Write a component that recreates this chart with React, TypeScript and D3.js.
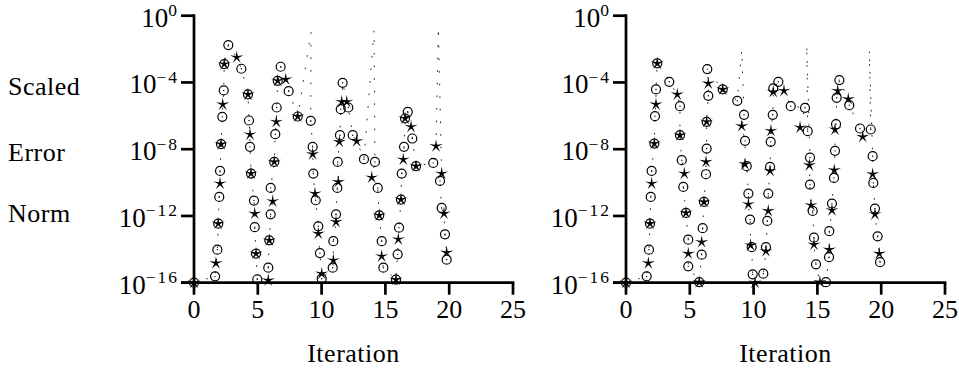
import React from 'react';
import * as d3 from 'd3';

// ---- data ----
const xTicks = [0, 5, 10, 15, 20, 25];
const yTickExps = [0, -4, -8, -12, -16];
const yLabelWords = ['Scaled', 'Error', 'Norm'];
const xLabel = 'Iteration';

// [iteration, log10(scaled error norm), marker: c=circle, s=star, cs=both, ''=none]
type P = [number, number, string];

const leftPoints: P[] = [
  [0, -16, 'cs'], [1.65, -15.62, 'c'], [1.72, -14.83, 's'], [1.83, -14.02, 'c'],
  [1.9, -12.46, 'cs'], [1.98, -10.86, 'c'], [2.04, -10.06, 's'], [2.04, -9.3, 'c'],
  [2.12, -7.7, 'cs'], [2.22, -6.06, 'c'], [2.25, -5.32, 's'], [2.33, -4.48, 'c'],
  [2.37, -2.9, 'cs'], [2.69, -1.76, 'c'], [3.35, -2.5, 's'], [3.71, -3.18, 'c'],
  [4.23, -4.72, 'cs'], [4.31, -6.28, 'c'], [4.39, -7.12, 's'], [4.39, -7.86, 'c'],
  [4.47, -9.46, 'cs'], [4.7, -11.08, 'c'], [4.76, -11.86, 's'], [4.76, -12.67, 'c'],
  [4.86, -14.26, 'cs'], [4.96, -15.8, 'c'], [5.82, -15.86, 's'], [5.82, -15.1, 'c'],
  [5.9, -13.46, 'cs'], [6.01, -11.9, 'c'], [6.17, -11.12, 's'], [6.01, -10.32, 'c'],
  [6.29, -8.76, 'cs'], [6.37, -7.1, 'c'], [6.45, -6.36, 's'], [6.48, -5.5, 'c'],
  [6.56, -3.9, 'cs'], [6.79, -3.06, 'c'], [7.19, -3.82, 's'], [7.42, -4.52, 'c'],
  [8.13, -6.04, 'cs'], [9.17, -0.98, ''], [9.15, -6.3, 'c'], [9.3, -7.86, 'c'],
  [9.3, -8.3, 's'], [9.35, -9.46, 'c'], [9.48, -10.66, 's'], [9.54, -11.06, 'c'],
  [9.74, -12.62, 'c'], [9.74, -13.06, 's'], [9.87, -14.23, 'c'], [10.01, -15.46, 's'],
  [10.01, -15.76, 'c'],
  [10.87, -15.1, 'c'], [10.92, -14.66, 's'], [10.92, -13.51, 'c'], [11.13, -12.36, 's'],
  [11.13, -11.9, 'c'], [11.23, -10.32, 'c'], [11.31, -9.96, 's'], [11.26, -8.76, 'c'],
  [11.39, -7.56, 's'], [11.44, -7.16, 'c'], [11.5, -5.6, 'c'], [11.58, -5.16, 's'],
  [11.65, -4.02, 'c'], [11.97, -5.16, 's'], [12.09, -5.5, 'c'], [12.44, -7.16, 'c'],
  [12.75, -7.52, 's'], [13.32, -8.6, 'c'], [14.11, -0.86, ''], [14.18, -8.76, 'c'],
  [13.93, -9.7, 's'], [14.4, -10.32, 'c'], [14.52, -11.96, 'cs'], [14.71, -13.51, 'c'],
  [14.71, -14.42, 's'], [14.84, -15.1, 'c'],
  [15.83, -15.82, 'cs'], [15.96, -14.3, 'c'], [16.01, -13.4, 's'], [16.07, -12.7, 'c'],
  [16.22, -11.02, 'cs'], [16.28, -9.46, 'c'], [16.4, -8.62, 's'], [16.46, -7.86, 'c'],
  [16.54, -6.16, 'cs'], [16.75, -5.76, 'c'], [17.01, -6.66, 's'], [17.11, -7.36, 'c'],
  [17.4, -9.02, 'cs'], [18.75, -8.82, 'c'], [18.97, -7.82, 's'], [19.15, -0.7, ''],
  [19.41, -9.46, 's'], [19.28, -9.9, 'c'], [19.41, -11.52, 'c'], [19.59, -11.86, 's'],
  [19.67, -13.1, 'c'], [19.8, -14.2, 's'], [19.8, -14.62, 'c'],
];

const rightPoints: P[] = [
  [0, -16, 'cs'], [1.62, -15.62, 'c'], [1.75, -14.83, 's'], [1.8, -14.02, 'c'],
  [1.88, -12.46, 'cs'], [1.94, -10.86, 'c'], [2.01, -10.06, 's'], [2.01, -9.3, 'c'],
  [2.22, -7.66, 'cs'], [2.27, -6.02, 'c'], [2.35, -5.32, 's'], [2.35, -4.42, 'c'],
  [2.45, -2.86, 'cs'], [3.39, -3.96, 'c'], [4.02, -4.72, 's'], [4.23, -5.42, 'c'],
  [4.23, -7.16, 'cs'], [4.37, -8.66, 'c'], [4.57, -9.46, 's'], [4.49, -10.26, 'c'],
  [4.7, -11.82, 'cs'], [4.88, -13.42, 'c'], [4.88, -14.26, 's'], [4.88, -15.02, 'c'],
  [5.74, -15.97, 'cs'], [5.93, -14.32, 'c'], [5.93, -13.57, 's'], [6.01, -12.73, 'c'],
  [6.11, -11.16, 'cs'], [6.27, -9.5, 'c'], [6.27, -8.76, 's'], [6.32, -7.96, 'c'],
  [6.32, -6.36, 'cs'], [6.45, -4.8, 'c'], [6.45, -4.06, 's'], [6.37, -3.2, 'c'],
  [7.58, -4.42, 'cs'], [8.72, -5.1, 'c'], [9.07, -2.06, ''], [9.25, -5.94, 'c'],
  [9.07, -6.62, 's'], [9.33, -7.5, 'c'], [9.33, -8.9, 's'], [9.46, -9.02, 'c'],
  [9.59, -10.66, 'c'], [9.59, -11.3, 's'], [9.72, -12.22, 'c'], [9.77, -13.76, 's'],
  [9.85, -13.87, 'c'], [9.93, -15.5, 'c'], [10.11, -16.0, 's'],
  [10.76, -15.46, 'c'], [10.97, -14.11, 's'], [10.97, -13.87, 'c'], [11.07, -12.3, 'c'],
  [11.15, -11.7, 's'], [11.15, -10.66, 'c'], [11.29, -9.3, 's'], [11.29, -9.06, 'c'],
  [11.34, -7.56, 'c'], [11.36, -6.9, 's'], [11.5, -5.94, 'c'], [11.54, -4.56, 's'],
  [11.54, -4.36, 'c'], [11.94, -3.96, 'c'], [12.38, -4.5, 's'], [12.91, -5.42, 'c'],
  [14.03, -5.52, 'c'], [13.64, -6.7, 's'], [14.24, -6.92, 'c'], [14.16, -1.76, ''],
  [14.42, -8.5, 'c'], [14.37, -8.96, 's'], [14.42, -10.12, 'c'], [14.5, -11.36, 's'],
  [14.63, -11.7, 'c'], [14.73, -13.3, 'c'], [14.73, -13.72, 's'], [14.89, -14.9, 'c'],
  [15.2, -15.97, 's'],
  [15.67, -15.97, 'c'], [15.91, -14.47, 'c'], [15.93, -14.02, 's'], [15.93, -12.91, 'c'],
  [16.14, -11.66, 's'], [16.14, -11.26, 'c'], [16.3, -9.72, 'c'], [16.32, -9.26, 's'],
  [16.38, -8.1, 'c'], [16.38, -6.82, 's'], [16.46, -6.5, 'c'], [16.51, -4.92, 'c'],
  [16.59, -4.5, 's'], [16.72, -3.86, 'c'], [17.42, -5.0, 's'], [17.5, -5.36, 'c'],
  [18.34, -6.76, 'c'], [18.55, -7.26, 's'], [19.18, -6.82, 'c'], [19.07, -2.06, ''],
  [19.33, -8.42, 'c'], [19.33, -9.5, 's'], [19.38, -10.02, 'c'], [19.51, -11.56, 'c'],
  [19.51, -11.9, 's'], [19.72, -13.22, 'c'], [19.85, -14.26, 's'], [19.91, -14.77, 'c'],
];

// ---- layout ----
const W = 959;
const H = 370;
const FONT = 'Liberation Serif, Times New Roman, serif';
const FS = 26;
const yTop = 15.7;
const yBottom = 282.7;
const panelWidth = 319;

function starPath(cx: number, cy: number, R: number, r: number) {
  const pts: string[] = [];
  for (let i = 0; i < 10; i++) {
    const a = -Math.PI / 2 + (i * Math.PI) / 5;
    const rad = i % 2 === 0 ? R : r;
    pts.push(`${(cx + rad * Math.cos(a)).toFixed(2)},${(cy + rad * Math.sin(a)).toFixed(2)}`);
  }
  return 'M' + pts.join('L') + 'Z';
}

function Panel({ x0, points }: { x0: number; points: P[] }) {
  const x = d3.scaleLinear().domain([0, 25]).range([x0, x0 + panelWidth]);
  const y = d3.scaleLog().domain([1e-16, 1]).range([yBottom, yTop]);
  const line = d3
    .line<P>()
    .x((d) => x(d[0]))
    .y((d) => y(Math.pow(10, d[1])));
  const axisW = 2.7;
  return (
    <g>
      {/* dotted trace */}
      <path d={line(points) || ''} fill="none" stroke="#222" strokeWidth={1} strokeDasharray="1.6 11" />
      {/* axes */}
      <line x1={x0} x2={x0} y1={yTop - axisW / 2} y2={yBottom} stroke="#000" strokeWidth={axisW} />
      <line x1={x0 - 13} x2={x(25) + axisW / 2} y1={yBottom} y2={yBottom} stroke="#000" strokeWidth={axisW} />
      {yTickExps.map((e) => (
        <g key={'y' + e}>
          <line x1={x0 - 13} x2={x0} y1={y(Math.pow(10, e))} y2={y(Math.pow(10, e))} stroke="#000" strokeWidth={axisW} />
          <text x={x0 - 15} y={y(Math.pow(10, e)) + 11} textAnchor="end" fontFamily={FONT} fontSize={FS + 1}>
            10
            <tspan dy={-10.5} fontSize={17.5} letterSpacing={2}>
              {e < 0 ? '\u2212' + Math.abs(e) : String(e)}
            </tspan>
          </text>
        </g>
      ))}
      {xTicks.map((t) => (
        <g key={'x' + t}>
          <line x1={x(t)} x2={x(t)} y1={yBottom} y2={yBottom + 12} stroke="#000" strokeWidth={axisW} />
          <text x={x(t)} y={318} textAnchor="middle" fontFamily={FONT} fontSize={FS}>
            {t}
          </text>
        </g>
      ))}
      <text x={x(12.5)} y={362} textAnchor="middle" fontFamily={FONT} fontSize={FS} letterSpacing={0.5}>
        {xLabel}
      </text>
      {/* markers */}
      {points.map((d, i) => {
        const cx = x(d[0]);
        const cy = y(Math.pow(10, d[1]));
        return (
          <g key={'m' + i}>
            {d[2].includes('c') && (
              <g>
                <circle cx={cx} cy={cy} r={4.5} fill="none" stroke="#000" strokeWidth={1.2} />
                <circle cx={cx} cy={cy} r={0.7} fill="#000" />
              </g>
            )}
            {d[2].includes('s') && <path d={starPath(cx, cy, 7, 1.7)} fill="#000" />}
          </g>
        );
      })}
    </g>
  );
}

export default function App() {
  const labelBaselines = [95, 161, 222];
  return (
    <svg width={W} height={H} style={{ position: 'absolute', left: 0, top: 0, background: '#fff' }}>
      <rect x={0} y={0} width={W} height={H} fill="#fff" />
      {yLabelWords.map((w, i) => (
        <text key={w} x={8} y={labelBaselines[i]} fontFamily={FONT} fontSize={FS} letterSpacing={0.5}>
          {w}
        </text>
      ))}
      <Panel x0={194} points={leftPoints} />
      <Panel x0={626} points={rightPoints} />
    </svg>
  );
}
